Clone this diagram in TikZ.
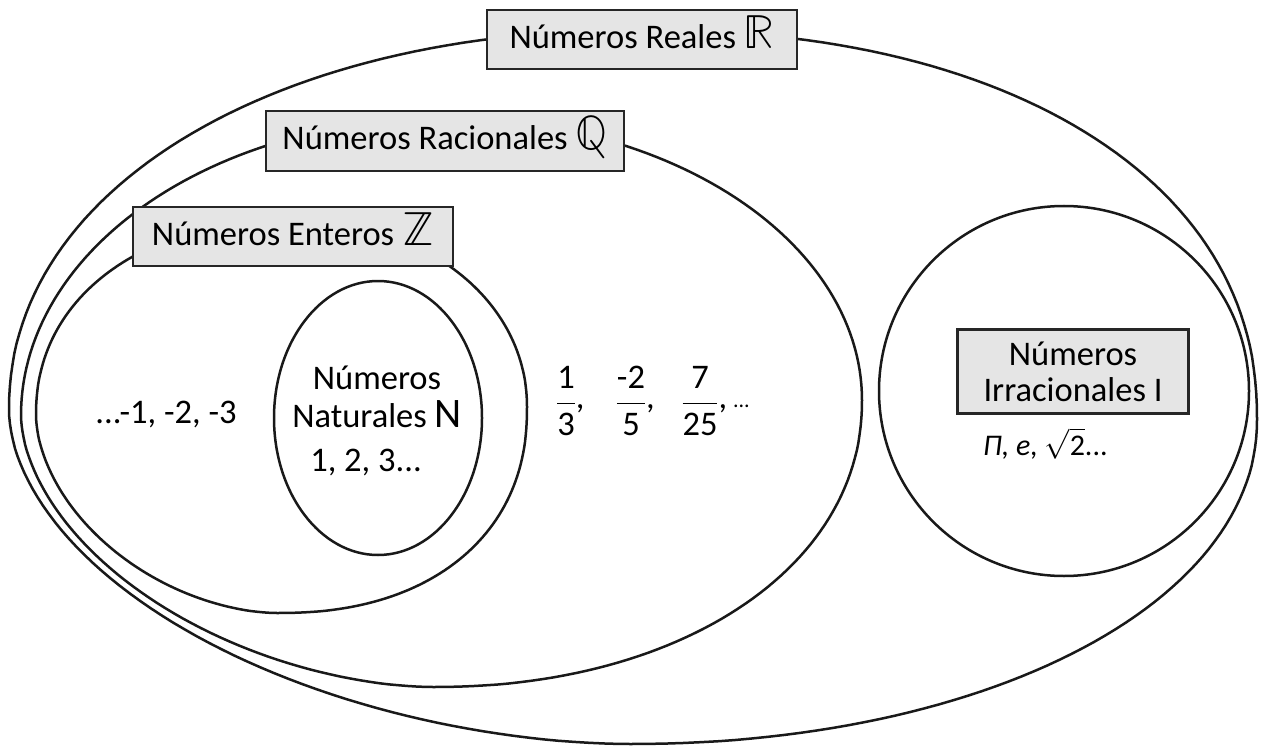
\documentclass[tikz,border=0pt]{standalone}
\usepackage{fontspec}
\usepackage{unicode-math}
\setmainfont{Carlito}
\setmathfont{Latin Modern Math}
\begin{document}
\begin{tikzpicture}[x=1pt,y=-1pt,
  curve/.style={line width=2.5pt, draw=black!90, line join=round},
  txt/.style={font=\fontsize{34.5}{36}\selectfont, inner sep=0pt, align=center},
  lbl/.style={txt, draw=black!85, line width=2.6pt, fill=black!10},
  onebox/.style={lbl, text height=18pt, text depth=0pt},
  small/.style={font=\fontsize{30}{30}\selectfont, inner sep=0pt},
  sq/.style={samples=60, variable=\t}]
\useasboundingbox (0,0) rectangle (1261,746);
\fill[white] (0,0) rectangle (1261,746);

% Reales: top (640,30), right (1257,420), bottom (630,744), left (9,410)
\draw[curve]
  plot[sq, domain=90:0] ({640+617*pow(max(cos(\t),0.00001),0.909)},{420-390*pow(max(sin(\t),0.00001),0.909)})
  -- plot[sq, domain=0:90] ({630+627*pow(max(cos(\t),0.00001),0.976)},{420+324*pow(max(sin(\t),0.00001),0.976)})
  -- plot[sq, domain=90:0] ({630-621*pow(max(cos(\t),0.00001),1.081)},{410+334*pow(max(sin(\t),0.00001),1.081)})
  -- plot[sq, domain=0:90] ({640-631*pow(max(cos(\t),0.00001),0.952)},{410-380*pow(max(sin(\t),0.00001),0.952)})
  -- cycle;
% Racionales: top (445,118), right (862,400), bottom (433,687), left (21,415)
\draw[curve]
  plot[sq, domain=90:0] ({445+417*pow(max(cos(\t),0.00001),1.0)},{400-282*pow(max(sin(\t),0.00001),1.0)})
  -- plot[sq, domain=0:90] ({433+429*pow(max(cos(\t),0.00001),0.952)},{400+287*pow(max(sin(\t),0.00001),0.952)})
  -- plot[sq, domain=90:0] ({433-412*pow(max(cos(\t),0.00001),1.111)},{415+272*pow(max(sin(\t),0.00001),1.111)})
  -- plot[sq, domain=0:90] ({445-424*pow(max(cos(\t),0.00001),1.0)},{415-297*pow(max(sin(\t),0.00001),1.0)})
  -- cycle;
% Enteros: top (292,220), right (527,407), bottom (277,613), left (36,415)
\draw[curve]
  plot[sq, domain=90:0] ({292+235*pow(max(cos(\t),0.00001),0.976)},{407-187*pow(max(sin(\t),0.00001),0.976)})
  -- plot[sq, domain=0:90] ({277+250*pow(max(cos(\t),0.00001),0.889)},{407+206*pow(max(sin(\t),0.00001),0.889)})
  -- plot[sq, domain=90:0] ({277-241*pow(max(cos(\t),0.00001),1.111)},{415+198*pow(max(sin(\t),0.00001),1.111)})
  -- plot[sq, domain=0:90] ({292-256*pow(max(cos(\t),0.00001),0.930)},{415-195*pow(max(sin(\t),0.00001),0.930)})
  -- cycle;
% Naturales
\draw[curve] (378,418) ellipse [x radius=104pt, y radius=137pt];
% Irracionales
\draw[curve] (1064,391) circle [radius=185pt];

\node[onebox, minimum width=310pt, minimum height=59pt] (reales) at (642,39.5) {Números Reales {\fontsize{48}{48}\selectfont$\mathbb{R}$}};
\node[onebox, minimum width=358pt, minimum height=60pt] (racionales) at (445,141) {Números Racionales {\fontsize{48}{48}\selectfont$\mathbb{Q}$}};
\node[onebox, minimum width=320pt, minimum height=59pt] (enteros) at (293,236.5) {Números Enteros {\fontsize{48}{48}\selectfont$\mathbb{Z}$}};
\node[lbl, minimum width=231pt, minimum height=84pt] (irr) at (1073,371.5) {Números\\Irracionales I};

\node[small, anchor=base west] (irrnums) at (983,455) {\textit{Π, e, }$\sqrt{\textup{2}}$...};

\node[txt, anchor=base] (neg) at (166,423) {...-1, -2, -3};
\node[txt, anchor=base] (nat1) at (377,389) {Números};
\node[txt, anchor=base] (nat2) at (377,427) {Naturales {\fontsize{42}{42}\selectfont N}};
\node[txt, anchor=base] (nat3) at (366,471) {1, 2, 3...};

\node[txt, anchor=base] (fr1) at (566,412) {$\dfrac{\text{1}}{\text{3}}\rlap{\raisebox{4pt}{,}}$};
\node[txt, anchor=base] (fr2) at (631,412) {$\dfrac{\text{-2}}{\text{5}}\rlap{\raisebox{4pt}{,}}$};
\node[txt, anchor=base] (fr3) at (700,412) {$\dfrac{\text{7}}{\text{25}}\rlap{\raisebox{4pt}{,}\,\raisebox{5pt}{\fontsize{22}{22}\selectfont...}}$};
\end{tikzpicture}
\end{document}
